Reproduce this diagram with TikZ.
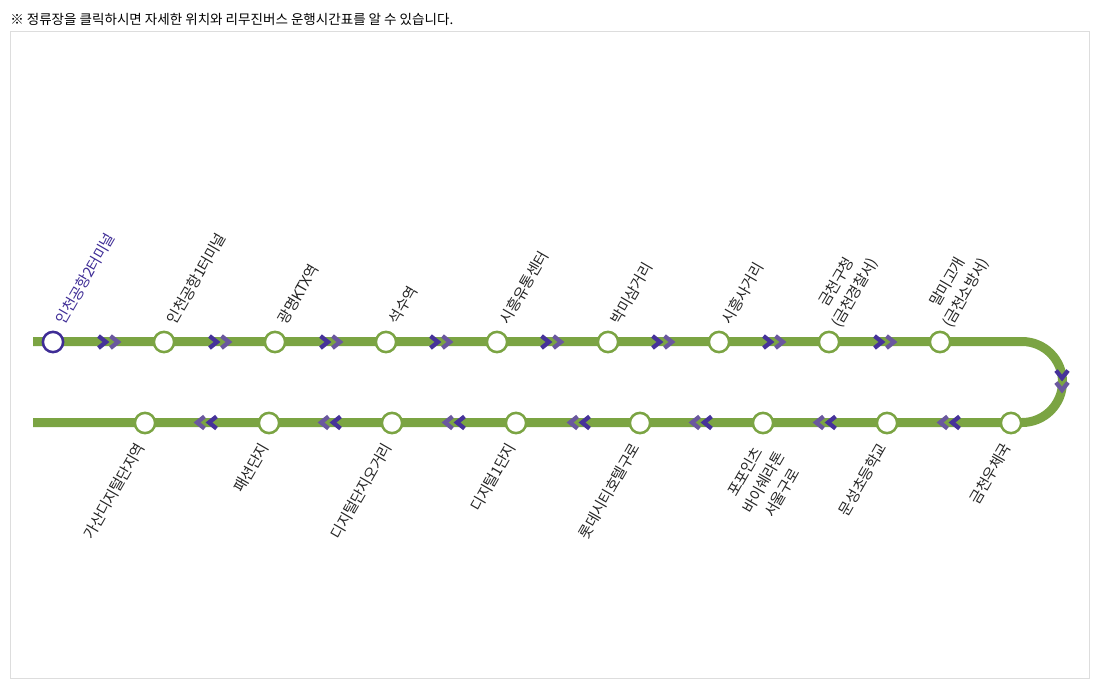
\documentclass[tikz,border=0pt]{standalone}
\usepackage{fontspec}
\setmainfont{Noto Sans CJK KR}
\newfontfamily\lblfont[LetterSpace=-3]{Noto Sans CJK KR}
\definecolor{routegreen}{HTML}{7BA443}
\definecolor{chevdark}{HTML}{46329A}
\definecolor{chevlight}{HTML}{6A579F}
\definecolor{startpurple}{HTML}{3F2D96}
\definecolor{framegrey}{HTML}{DDDDDD}
\tikzset{
  route/.style={draw=routegreen,line width=6.75pt},
  stopdot/.style={circle,draw=routegreen,fill=white,line width=1.9pt,minimum size=15.2pt,inner sep=0pt},
  firstdot/.style={stopdot,draw=startpurple},
  toplabel/.style={font=\lblfont\fontsize{11.2pt}{15.8pt}\selectfont,rotate=60,anchor=south west,align=center,inner sep=0pt,text=black!85},
  botlabel/.style={font=\lblfont\fontsize{11.2pt}{15.8pt}\selectfont,rotate=60,anchor=north east,align=center,inner sep=0pt,text=black!85},
  chevstroke/.style={line width=3.2pt,miter limit=10},
  chevron/.pic={\draw[chevstroke,chevdark] (-4.5,-6)--(3,0)--(-4.5,6);
                \draw[chevstroke,chevlight] (7.5,-6)--(15,0)--(7.5,6);}
}
\begin{document}
\begin{tikzpicture}[x=.75pt,y=-.75pt]
\useasboundingbox (0,0) rectangle (1103,693);
\draw[framegrey,line width=.75pt] (10.5,31.5) rectangle (1089.5,678.5);
\node[anchor=west,inner sep=0pt,font=\fontsize{10.15pt}{12pt}\selectfont] (note) at (10,19) {※ 정류장을 클릭하시면 자세한 위치와 리무진버스 운행시간표를 알 수 있습니다.};
\coordinate (rs) at (33,341.5);
\coordinate (re) at (33,422.5);
\draw[route] (rs) -- (1022,341.5) arc[start angle=-90,end angle=90,radius=40.5,y=.75pt] -- (re);
% chevrons
\foreach \x in {103,214,325,435,546,657,768,879}
  \pic at (\x,342) {chevron};
\foreach \x in {955,831,707,585,460,336,212}
  \pic[rotate=180] at (\x,422.5) {chevron};
\pic[rotate=-90] at (1062,375) {chevron};
% stops
\node[firstdot] (s1) at (53,342) {};
\foreach \n/\x in {s2/164,s3/275,s4/386,s5/497,s6/608,s7/719,s8/829,s9/940}
  \node[stopdot] (\n) at (\x,342) {};
\foreach \n/\x in {b1/1011,b2/887,b3/763,b4/640,b5/516,b6/392,b7/269,b8/145}
  \node[stopdot] (\n) at (\x,423) {};
% top labels
\node[toplabel,text=startpurple] (t1) at (66,326) {인천공항2터미널};
\node[toplabel] (t2) at (177,326) {인천공항1터미널};
\node[toplabel] (t3) at (288,326) {광명KTX역};
\node[toplabel] (t4) at (399,326) {석수역};
\node[toplabel] (t5) at (510,326) {시흥유통센터};
\node[toplabel] (t6) at (621,326) {박미삼거리};
\node[toplabel] (t7) at (732,326) {시흥사거리};
\node[toplabel] (t8) at (843,330) {금천구청\\(금천경찰서)};
\node[toplabel] (t9) at (954,330) {말미고개\\(금천소방서)};
% bottom labels
\node[botlabel] (l1) at (1001,441) {금천우체국};
\node[botlabel] (l2) at (877,441) {문성초등학교};
\node[botlabel] (l3) at (756,439) {포포인츠\\바이쉐라톤\\서울구로};
\node[botlabel] (l4) at (630,441) {롯데시티호텔구로};
\node[botlabel] (l5) at (506,441) {디지털1단지};
\node[botlabel] (l6) at (382,441) {디지털단지오거리};
\node[botlabel] (l7) at (259,441) {패션단지};
\node[botlabel] (l8) at (135,441) {가산디지털단지역};
\end{tikzpicture}
\end{document}
